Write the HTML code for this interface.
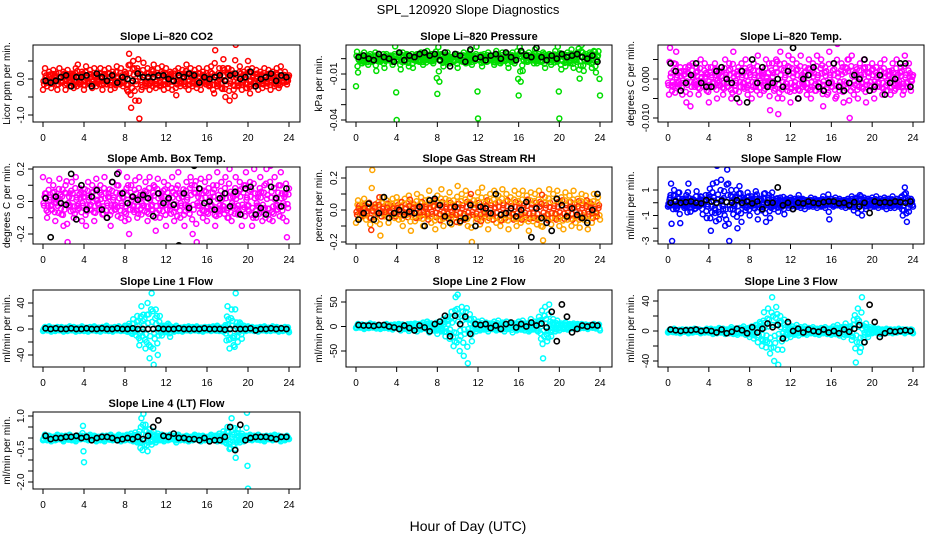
<!DOCTYPE html>
<html><head><meta charset="utf-8"><style>
html,body{margin:0;padding:0;background:#fff;}
svg{display:block;font-family:"Liberation Sans",sans-serif;}
</style></head><body>
<svg id="chart" width="936" height="540" viewBox="0 0 936 540" xmlns="http://www.w3.org/2000/svg">
<rect width="936" height="540" fill="#fff"/>
<text x="468" y="14" text-anchor="middle" font-size="13">SPL_120920  Slope Diagnostics</text>
<text x="468" y="531" text-anchor="middle" font-size="14">Hour of Day (UTC)</text>
</svg>
<script>
const xTicks=[0,4,8,12,16,20,24];
const c1=[-0.3,0.3,-0.2,0.2,-0.25,0.25,0.1,-0.3,0.3,-0.1,0.2,-0.3,0.25,-0.2,0.15,-0.25,0.3,0.4,-0.15,0.2,-0.3,0.35,-0.1,0.25,-0.25,0.3,-0.2,0.1,0.3,-0.3,0.25,-0.15,0.3,-0.3,0.2,-0.25,0.35,-0.1,0.3,-0.2,0.2,-0.3,0.7,-0.8,0.5,-0.6,0.3,-1.1,-0.3,0.45,-0.2,0.3,-0.3,0.25,0.4,-0.25,0.3,-0.2,0.35,-0.3,0.3,-0.25,0.2,-0.3,0.15,-0.45,0.3,-0.2,0.25,-0.15,0.4,-0.3,0.3,-0.2,0.25,-0.25,0.3,-0.3,0.2,-0.1,0.3,-0.2,0.35,-0.3,0.8,-0.2,0.3,-0.25,0.55,-0.5,0.3,-0.6,0.25,-0.3,0.95,-0.2,0.35,-0.3,0.2,-0.25,0.5,-0.4,0.3,-0.2,0.25,-0.3,0.2,-0.25,0.3,-0.2,0.25,-0.3,0.2,-0.2,0.3,-0.25,0.35,-0.1,0.2,-0.15,0.1];
const k1=[-0.05,-0.1,-0.05,0.05,0.1,-0.2,0.05,0.05,0.1,-0.2,0.15,0.05,-0.05,0.1,-0.1,0.05,0,-0.05,0.15,0.05,0.05,0.05,0.1,0.1,0.0,-0.05,0.1,0.05,0.15,0.1,-0.1,0.05,0.0,0.05,0.1,-0.05,0.1,0.15,0.0,0.05,0.2,-0.2,0.0,0.05,0.15,-0.05,0.1,0.05];
const c2=[-0.018,-0.009,0.002,-0.003,0.004,0.001,-0.004,0.003,-0.002,0.002,-0.008,0.003,-0.002,0.001,-0.006,0.003,-0.001,0.002,-0.004,0.003,-0.040,0.002,-0.007,0.004,-0.002,0.003,-0.005,0.001,-0.006,0.002,0.003,-0.002,0.004,-0.004,0.002,0.005,-0.001,0.003,-0.003,0.002,-0.023,-0.015,0.003,-0.005,0.002,0.004,-0.003,0.001,-0.002,0.003,-0.006,0.002,-0.001,0.004,-0.003,0.002,0.005,-0.004,0.001,0.003,-0.039,0.002,-0.005,0.003,-0.002,0.004,-0.001,0.002,-0.004,0.005,0.002,-0.003,0.004,-0.001,0.003,-0.006,0.002,0.004,-0.003,0.001,-0.024,-0.015,-0.008,0.003,-0.002,0.004,-0.001,0.002,0.006,-0.003,0.003,-0.002,0.004,-0.006,0.002,0.003,-0.004,0.001,0.005,-0.002,-0.039,-0.007,0.003,-0.005,0.004,-0.002,0.006,-0.006,0.002,0.004,-0.013,0.009,-0.008,0.003,-0.002,0.004,-0.006,0.005,-0.009,0.002,-0.024];
const k2=[0.001,0.002,0.000,-0.001,0.003,0.001,0.000,-0.002,0.004,-0.001,0.002,0.001,0.003,0.004,0.002,0.003,-0.001,0.004,-0.005,0.003,0.002,-0.002,0.006,0.000,0.001,-0.001,0.002,0.003,0.000,0.004,0.001,-0.001,0.005,0.002,0.001,0.007,0.001,-0.001,0.002,0.000,0.003,0.001,0.002,0.003,0.001,0.000,0.002,-0.002];
const c3=[-0.001,0.008,-0.003,0.004,0.007,-0.002,0.003,-0.004,0.002,-0.006,0.003,-0.007,0.004,-0.002,0.003,-0.004,0.005,-0.001,0.004,-0.003,-0.006,0.003,-0.002,0.004,-0.005,0.002,0.003,-0.004,0.005,-0.002,0.004,-0.005,0.007,-0.003,0.002,-0.006,0.004,-0.002,0.005,-0.004,0.003,-0.005,0.004,-0.002,0.006,-0.004,0.002,-0.003,0.005,-0.001,-0.008,0.004,-0.003,0.005,-0.009,0.007,-0.005,0.004,-0.002,0.006,-0.006,0.005,-0.003,0.004,-0.005,0.006,-0.002,0.003,-0.004,0.005,-0.005,0.004,-0.003,0.006,-0.002,0.005,-0.007,0.003,-0.004,0.007,-0.002,0.004,-0.005,0.009,-0.003,0.004,-0.006,0.003,0.005,-0.010,0.006,-0.004,0.003,-0.005,0.004,-0.002,0.005,-0.006,0.003,-0.003,0.004,-0.005,0.003,-0.002,0.004,-0.004,0.005,-0.003,0.002,-0.004,0.004,-0.003,0.005,-0.002,0.003,-0.004,0.006,-0.002,0.004,-0.003,0.001];
const k3=[0.004,0.002,-0.003,-0.001,0.001,0.004,-0.001,-0.002,-0.002,0.002,0.003,0.000,-0.001,-0.005,0.002,-0.006,0.005,-0.001,0.003,-0.002,-0.001,0.000,-0.002,0.002,0.008,-0.005,0.000,0.001,0.003,-0.002,-0.003,-0.001,0.004,-0.002,-0.003,-0.001,0.001,0.000,0.005,-0.003,-0.002,0.001,-0.004,-0.001,0.000,0.004,0.004,-0.002];
const c4=[0.15,0.05,-0.1,0.13,-0.05,0.1,-0.12,0.02,0.14,-0.08,-0.15,0.1,-0.25,0.05,0.12,-0.1,0.15,-0.05,0.08,-0.12,0.05,-0.15,0.12,-0.05,0.1,-0.12,0.14,-0.02,0.1,-0.08,0.15,-0.1,0.05,-0.15,0.12,-0.05,0.1,0.18,-0.1,0.05,-0.12,0.15,-0.2,0.1,-0.05,0.13,-0.1,0.15,-0.08,0.05,0.12,-0.12,0.15,-0.05,0.1,-0.18,0.14,-0.1,0.05,0.12,-0.15,0.1,-0.05,0.15,-0.12,0.08,0.18,-0.1,0.05,-0.15,0.12,-0.05,0.15,-0.2,0.1,-0.25,0.05,0.14,-0.1,0.12,-0.12,0.15,-0.05,0.1,-0.15,0.18,-0.08,0.12,-0.05,0.15,-0.1,0.2,-0.12,0.05,0.15,-0.08,0.12,-0.15,0.1,0.18,-0.05,0.12,-0.15,0.2,-0.1,0.05,0.15,-0.12,0.1,0.2,-0.08,0.22,-0.12,0.15,-0.05,0.1,0.18,-0.1,0.05,-0.22,0.08];
const k4=[0.02,-0.22,0.03,-0.01,-0.02,0.17,-0.11,0.1,-0.05,0.03,0.07,-0.05,-0.1,0.12,0.17,0.05,-0.01,0.03,0.01,0.04,0.02,-0.09,0.05,-0.01,0.02,-0.02,-0.27,0.05,-0.04,0.22,0.08,-0.01,0.0,-0.05,0.02,0.05,-0.03,0.06,-0.08,0.08,0.09,-0.08,-0.04,-0.08,0.09,0.02,-0.03,0.08];
const c5=[-0.08,0.06,-0.05,0.03,0.07,-0.06,0.04,-0.09,0.25,0.02,-0.07,0.05,-0.16,0.08,-0.04,0.06,-0.08,0.03,0.07,-0.05,0.08,-0.06,0.05,-0.1,0.07,-0.03,0.09,-0.13,0.04,-0.07,0.1,-0.05,0.08,-0.1,0.06,-0.04,0.12,-0.08,0.05,-0.12,0.09,-0.06,0.13,-0.1,0.07,-0.04,0.11,-0.09,0.06,-0.05,0.15,-0.08,0.1,-0.06,0.12,-0.1,0.08,-0.2,0.06,-0.07,0.11,-0.09,0.14,-0.05,0.08,-0.12,0.1,-0.06,0.12,-0.08,0.09,-0.1,0.13,-0.06,0.1,-0.12,0.08,-0.05,0.12,-0.1,0.1,-0.08,0.12,-0.06,0.09,-0.13,0.11,-0.07,0.1,-0.09,0.12,-0.1,-0.19,0.08,-0.06,0.13,-0.09,0.1,-0.05,0.12,-0.1,0.08,-0.12,0.11,-0.06,0.09,-0.1,0.12,-0.08,0.07,-0.11,0.1,-0.06,0.09,-0.12,0.05,-0.08,0.1,-0.04,0.08,-0.06];
const k5=[-0.06,-0.02,0.04,-0.06,-0.02,0.08,-0.05,-0.02,0.0,-0.03,-0.01,-0.02,0.02,-0.1,0.06,0.07,0.03,-0.04,-0.08,0.02,-0.07,-0.05,0.03,-0.1,0.02,0.01,-0.02,0.1,-0.03,-0.02,0.01,-0.04,0.0,0.05,-0.17,0.01,-0.05,-0.08,-0.13,0.07,0.03,-0.04,0.01,-0.03,-0.05,-0.08,0.0,0.1];
const c6=[-0.3,0.4,-3.0,1.0,-0.5,0.8,-1.6,0.3,-0.4,0.6,1.5,-0.7,0.3,-0.5,0.9,-0.3,0.5,-0.9,0.2,-1.2,0.6,-2.2,1.5,-0.8,2.9,-1.3,1.8,-0.5,-1.8,2.6,-3.0,1.0,-0.9,0.5,-2.0,1.3,-1.5,0.4,-0.6,0.8,-1.0,0.5,-0.4,0.9,-1.3,0.3,-0.6,0.7,-1.5,0.4,-1.2,0.8,-0.5,0.3,-0.7,0.4,-0.3,-0.9,0.3,-0.4,0.4,-0.5,0.3,-0.3,0.6,-0.4,0.3,-0.5,0.2,-0.3,0.4,-0.3,0.3,-0.4,0.2,-0.3,0.5,-0.4,0.3,-1.3,0.3,-0.3,0.4,-0.2,0.3,-0.3,0.2,-0.4,0.3,-0.3,0.5,-0.6,0.3,-0.8,0.6,-1.0,0.4,-0.5,0.3,-0.4,0.4,-0.3,0.5,-0.4,0.3,-0.3,0.4,-0.5,0.3,-0.4,0.5,-0.4,0.3,-0.3,0.4,-1.0,1.2,-1.5,-0.7,0.3,-0.3];
const k6=[0.0,0.1,0.0,0.05,0.1,0.0,-0.05,0.2,0.1,0.0,0.15,0.05,0.0,0.2,0.0,0.1,-0.05,0.1,-0.5,0.0,0.0,1.2,-0.2,0.0,-0.5,0.0,-0.05,0.1,0.0,-0.05,0.05,0.1,0.1,-0.05,0.0,-0.2,0.05,-0.3,0.0,-0.8,0.1,0.0,0.05,0.0,0.1,0.05,0.0,0.1];
const c7=[-3,3,-2,4,-4,2,-3,3,-2,3,-4,2,-3,4,-2,3,-4,2,-3,4,-3,2,-4,3,-2,4,-3,2,-4,3,-2,5,-3,2,-4,3,-2,4,-3,2,5,-4,8,-6,15,-3,20,-25,35,22,-30,40,-45,55,-55,30,-40,20,-10,5,-5,8,-12,3,-4,5,-3,2,-4,3,-2,4,-3,3,-2,4,-3,2,-4,3,-2,3,-3,4,-2,5,-3,2,-4,6,35,-30,30,-25,55,-20,10,-15,5,-3,4,-2,3,-3,2,-4,3,-2,4,-3,2,-3,4,-2,3,-4,2,-3,3,-2,-5];
const k7=[1,0,1,0,0,1,0,0,1,0,0,1,0,0,1,0,0,1,0,0,0,0,1,0,0,0,1,0,0,0,0,1,0,0,0,-1,0,0,0,0,1,-2,0,0,1,0,1,0];
const c8=[-3,5,-2,4,-5,3,-3,6,-2,4,-4,3,-5,2,-3,5,-4,3,-6,4,-3,5,-8,4,-5,3,-9,5,-4,6,-10,5,-6,8,-4,10,-12,6,-8,5,-15,10,-10,15,-20,20,-25,30,-40,60,65,-50,40,-60,30,-75,25,-30,15,-10,10,-8,12,-6,8,-10,6,-5,10,-8,12,-6,8,-10,10,-5,8,-12,6,-8,10,-6,12,-8,6,-10,15,-6,10,-8,20,-25,-65,40,-30,45,-20,15,-10,12,-8,6,-5,8,-6,5,-4,6,-3,5,-4,5,-3,4,-5,3,-2,5,-4,3,-8];
const k8=[3,2,2,1,3,3,0,-2,-5,2,-3,-8,2,-2,-10,5,10,22,-20,22,5,20,-15,5,3,5,-3,2,-5,5,8,-2,5,0,8,2,6,-2,30,-30,45,20,-12,-5,2,0,3,2];
const c9=[-2,2,-1,3,-2,1,-3,2,-1,2,-3,2,-2,3,-1,2,-3,1,-2,3,-2,3,-4,2,-3,4,-2,3,-4,2,-3,5,-4,3,-5,4,-3,6,-5,3,-8,6,-10,8,-15,12,-20,25,-22,30,-30,45,-40,32,-45,20,-25,15,-10,10,-8,6,-5,8,-6,5,-4,6,-5,4,-3,5,-4,3,-5,4,-3,5,-4,3,-5,6,-4,8,-6,5,-8,10,-5,6,-12,15,-42,30,-28,45,-15,10,-8,5,-3,4,-2,3,-4,2,-3,3,-2,2,-3,2,-2,3,-1,2,-3,2,-1,2,-3];
const k9=[2,1,0,1,1,2,0,1,0,-2,2,-3,-1,3,1,-3,5,-2,3,10,5,8,-10,12,0,3,-2,2,0,-1,2,-2,0,-3,2,-1,3,8,-15,35,12,-8,-3,0,-1,0,1,0];
const c10=[-0.1,0.15,-0.1,0.1,-0.15,0.05,-0.1,0.15,-0.05,0.1,-0.15,0.1,-0.05,0.15,-0.1,0.05,-0.15,0.1,-0.05,0.1,-1.1,0.1,-0.1,0.15,-0.05,0.1,-0.15,0.05,-0.1,0.1,-0.15,0.1,-0.05,0.15,-0.1,0.05,-0.1,0.15,-0.15,0.1,-0.1,0.15,-0.05,0.2,-0.15,0.25,-0.2,0.3,0.9,1.1,0.6,-0.6,0.4,-0.3,0.3,-0.2,0.2,-0.1,0.15,-0.15,0.1,-0.1,0.15,-0.05,0.1,-0.2,0.15,-0.1,0.05,-0.1,0.1,-0.15,0.05,-0.1,0.15,-0.05,0.1,-0.15,0.1,-0.1,0.05,-0.1,0.15,-0.05,0.1,-0.15,0.2,-0.1,0.3,-0.2,0.5,-0.5,0.9,-0.3,-0.9,0.4,-0.2,0.2,-0.15,0.1,-2.3,0.15,-0.1,0.1,-0.05,0.15,-0.1,0.05,-0.15,0.1,-0.05,0.1,-0.1,0.15,-0.05,0.1,-0.15,0.05,-0.1,0.1,-0.05];
const k10=[0.1,-0.05,0.0,0.0,0.05,0.05,0.1,0.0,0.05,-0.1,0.0,0.05,0.05,0.0,-0.1,-0.05,0.0,-0.05,0.05,-0.05,0.1,0.5,0.8,0.1,0.05,0.2,0.0,0.0,-0.05,-0.05,-0.1,0.0,-0.15,-0.1,-0.1,0.05,0.5,-0.55,0.6,-0.1,0.0,0.05,0.05,0.05,0.0,-0.05,0.05,0.05];

const S='http://www.w3.org/2000/svg';
const svg=document.getElementById('chart');
function mk(tag,attrs,parent){const e=document.createElementNS(S,tag);for(const k in attrs)e.setAttribute(k,attrs[k]);(parent||svg).appendChild(e);return e;}
const cols=[{l:33,r:300,h0:43,h24:289,yt:10},{l:346,r:612,h0:356,h24:600,yt:322},{l:658,r:924,h0:668,h24:913,yt:634}];
const rows=[{t:45,b:122},{t:167,b:244},{t:290,b:367},{t:412,b:489}];
const panels=[
 {name:'co2',title:'Slope Li–820 CO2',ylab:'Licor ppm per min.',col:0,row:0,c:c1,k:k1,color:'#ff0000',v0:0,p0:79,v1:-1,p1:115,ticks:[0.5,0,-0.5,-1],labs:{'0':'0.0','-1':'-1.0'}},
 {name:'pressure',title:'Slope Li–820 Pressure',ylab:'kPa per min.',col:1,row:0,c:c2,k:k2,color:'#00dd00',v0:-0.01,p0:74,v1:-0.04,p1:120,ticks:[0,-0.01,-0.02,-0.03,-0.04],labs:{'-0.01':'-0.01','-0.04':'-0.04'}},
 {name:'li820-temp',title:'Slope Li–820 Temp.',ylab:'degrees C per min.',col:2,row:0,c:c3,k:k3,color:'#ff00ff',v0:0,p0:79,v1:-0.01,p1:118,ticks:[0.005,0,-0.005,-0.01],labs:{'0':'0.000','-0.01':'-0.010'}},
 {name:'amb-box-temp',title:'Slope Amb. Box Temp.',ylab:'degrees C per min.',col:0,row:1,c:c4,k:k4,color:'#ff00ff',v0:0.2,p0:169,v1:-0.2,p1:234,ticks:[0.2,0.1,0,-0.1,-0.2],labs:{'0.2':'0.2','0':'0.0','-0.2':'-0.2'}},
 {name:'gas-stream-rh',title:'Slope Gas Stream RH',ylab:'percent per min.',col:1,row:1,c:c5,k:k5,color:'#ffa500',color2:'#ff3300',v0:0.2,p0:178,v1:-0.2,p1:242,ticks:[0.2,0.1,0,-0.1,-0.2],labs:{'0.2':'0.2','0':'0.0','-0.2':'-0.2'}},
 {name:'sample-flow',title:'Slope Sample Flow',ylab:'ml/min per min.',col:2,row:1,c:c6,k:k6,color:'#0000ff',v0:1,p0:190,v1:-3,p1:241,ticks:[1,0,-1,-2,-3],labs:{'1':'1','-1':'-1','-3':'-3'}},
 {name:'line1-flow',title:'Slope Line 1 Flow',ylab:'ml/min per min.',col:0,row:2,c:c7,k:k7,color:'#00ffff',v0:40,p0:303,v1:-40,p1:355,ticks:[40,20,0,-20,-40],labs:{'40':'40','0':'0','-40':'-40'}},
 {name:'line2-flow',title:'Slope Line 2 Flow',ylab:'ml/min per min.',col:1,row:2,c:c8,k:k8,color:'#00ffff',v0:50,p0:302,v1:-50,p1:351,ticks:[50,0,-50],labs:{'50':'50','0':'0','-50':'-50'}},
 {name:'line3-flow',title:'Slope Line 3 Flow',ylab:'ml/min per min.',col:2,row:2,c:c9,k:k9,color:'#00ffff',v0:40,p0:301,v1:-40,p1:361,ticks:[40,20,0,-20,-40],labs:{'40':'40','0':'0','-40':'-40'}},
 {name:'line4-flow',title:'Slope Line 4 (LT) Flow',ylab:'ml/min per min.',col:0,row:3,c:c10,k:k10,color:'#00ffff',v0:1,p0:416,v1:-2,p1:482,ticks:[1,0.5,0,-0.5,-1,-1.5,-2],labs:{'1':'1.0','-0.5':'-0.5','-2':'-2.0'}}
];
const passes=[{off:0,f:1},{off:-0.5,f:-0.5},{off:-0.25,f:0.55},{off:-0.75,f:-0.2}];
panels.forEach(p=>{
 const C=cols[p.col],R=rows[p.row];
 const g=mk('g',{});
 
 
 const xs=h=>C.h0+(C.h24-C.h0)*h/24;
 const ys=v=>p.p0+(v-p.v0)*(p.p1-p.p0)/(p.v1-p.v0);
 const clip='clip-'+p.name;
 const cp=mk('clipPath',{id:clip},g);mk('rect',{x:C.l,y:R.t,width:C.r-C.l,height:R.b-R.t},cp);
 const pts=mk('g',{'clip-path':'url(#'+clip+')'},g);
 
 
 const n=p.c.length;
 passes.forEach((ps,pi)=>{
  p.c.forEach((v,i)=>{if(pi>0&&i===0)return;const h=(i+ps.off)*24/(n-1);
   const col=(p.color2&&pi%2===1)?p.color2:p.color;
   const e=mk('circle',{cx:xs(h),cy:ys(v*ps.f),r:2.5,fill:'none',stroke:col,'stroke-width':1.5},pts);
   
   });
 });
 p.k.forEach((v,j)=>{const h=0.25+0.5*j;
  const e=mk('circle',{cx:xs(h),cy:ys(v),r:2.6,fill:'none',stroke:'#000','stroke-width':1.6},pts);
  
  });
 const box=mk('rect',{x:C.l,y:R.t,width:C.r-C.l,height:R.b-R.t,fill:'none',stroke:'#000','stroke-width':1},g);
 
 
 const t=mk('text',{x:(C.l+C.r)/2,y:R.t-5,'text-anchor':'middle','font-size':11,'font-weight':'bold'},g);t.textContent=p.title;
 
 
 const xa=mk('g',{},g);
 
 
 xTicks.forEach(h=>{mk('line',{x1:xs(h),x2:xs(h),y1:R.b,y2:R.b+5,stroke:'#000'},xa);
  const l=mk('text',{x:xs(h),y:R.b+19,'text-anchor':'middle','font-size':10},xa);l.textContent=h;});
 const ya=mk('g',{},g);
 
 
 p.ticks.forEach(v=>{mk('line',{x1:C.l-5,x2:C.l,y1:ys(v),y2:ys(v),stroke:'#000'},ya);
  const lab=p.labs[String(v)];
  if(lab){const X=C.l-9,Y=ys(v);const l=mk('text',{x:X,y:Y,'text-anchor':'middle','font-size':10,transform:'rotate(-90 '+X+' '+Y+')'},ya);l.textContent=lab;}});
 const yl=mk('text',{x:C.yt,y:(R.t+R.b)/2,'text-anchor':'middle','font-size':10,transform:'rotate(-90 '+C.yt+' '+(R.t+R.b)/2+')'},g);yl.textContent=p.ylab;
 
 
});
</script>
</body></html>
